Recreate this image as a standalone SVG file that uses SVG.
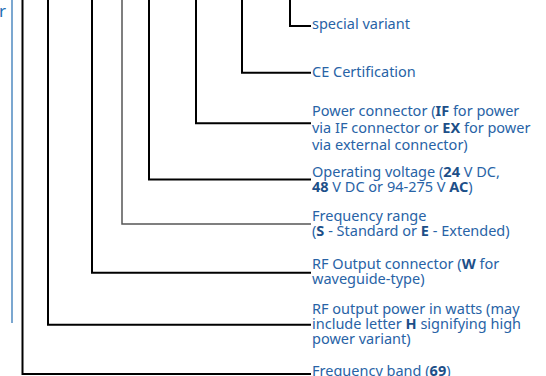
<svg xmlns="http://www.w3.org/2000/svg" width="546" height="376" viewBox="0 0 546 376">
<style>
.c{fill:none;stroke:#000;stroke-width:2}
.g{fill:none;stroke:#555;stroke-width:1.5}
.t{font-family:"Noto Sans","Liberation Sans",sans-serif;font-size:14.5px;fill:#2863a6}
.b{font-weight:bold;fill:#1d4f88}
</style>
<rect width="546" height="376" fill="#fff"/>
<g id="edge-deco">
<line x1="12" y1="0" x2="12" y2="323" stroke="#7ba7d0" stroke-width="2"/>
<text x="-1" y="17" font-family="Noto Sans, sans-serif" font-size="17" fill="#1f6fb5">r</text>
</g>
<g id="connectors">
<path class="c" d="M290,0 V26 H311"/>
<path class="c" d="M242,0 V72.7 H311"/>
<path class="c" d="M196,0 V123.3 H311"/>
<path class="c" d="M149,0 V179.5 H311"/>
<path class="g" d="M122,0 V224 H311"/>
<path class="c" d="M92,0 V272.7 H311"/>
<path class="c" d="M48,0 V324.7 H311"/>
<path class="c" d="M22.5,0 V374 H311"/>
</g>
<g id="special-variant"><text class="t" x="312" y="29">special variant</text></g>
<g id="ce-certification"><text class="t" x="312" y="77">CE Certification</text></g>
<g id="power-connector">
<text class="t" x="312" y="115.5">Power connector (<tspan class="b">IF</tspan> for power</text>
<text class="t" x="312" y="132.5">via IF connector or <tspan class="b">EX</tspan> for power</text>
<text class="t" x="312" y="149.5">via external connector)</text>
</g>
<g id="operating-voltage">
<text class="t" x="312" y="176.5">Operating voltage (<tspan class="b">24</tspan> V DC,</text>
<text class="t" x="312" y="191.5"><tspan class="b">48</tspan> V DC or 94-275 V <tspan class="b">AC</tspan>)</text>
</g>
<g id="frequency-range">
<text class="t" x="312" y="220.5">Frequency range</text>
<text class="t" x="312" y="236">(<tspan class="b">S</tspan> - Standard or <tspan class="b">E</tspan> - Extended)</text>
</g>
<g id="rf-output-connector">
<text class="t" x="312" y="268.5">RF Output connector (<tspan class="b">W</tspan> for</text>
<text class="t" x="312" y="283.5">waveguide-type)</text>
</g>
<g id="rf-output-power">
<text class="t" x="312" y="313.5">RF output power in watts (may</text>
<text class="t" x="312" y="328.5">include letter <tspan class="b">H</tspan> signifying high</text>
<text class="t" x="312" y="343.5">power variant)</text>
</g>
<g id="frequency-band"><text class="t" x="312" y="375.5">Frequency band (<tspan class="b">69</tspan>)</text></g>
</svg>
